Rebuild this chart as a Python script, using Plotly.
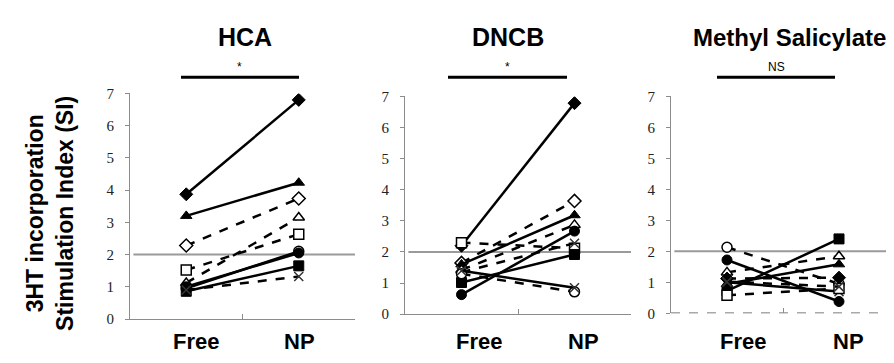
import plotly.graph_objects as go

W, H = 894, 363

categories = ["Free", "NP"]
panel_titles = ["HCA", "DNCB", "Methyl Salicylate"]
significance = ["*", "*", "NS"]
y_ticks = [0, 1, 2, 3, 4, 5, 6, 7]

# Per-subject values (Free, NP)
hca_free = [3.87, 3.20, 2.28, 1.12, 1.52, 0.95, 1.00, 0.86, 0.90]
hca_np   = [6.80, 4.23, 3.74, 3.15, 2.63, 2.10, 2.05, 1.65, 1.32]
hca_sym  = ["diamond", "triangle-up", "diamond-open", "triangle-up-open", "square-open",
            "circle-open", "circle", "square", "x-thin"]
hca_dash = ["solid", "solid", "dash", "dash", "dash", "solid", "solid", "solid", "dash"]

dncb_free = [2.20, 2.30, 1.65, 1.60, 1.42, 0.63, 1.35, 1.02, 1.30, 1.40]
dncb_np   = [6.78, 2.12, 3.64, 3.18, 2.87, 2.67, 2.28, 1.92, 0.72, 0.85]
dncb_sym  = ["diamond", "square-open", "diamond-open", "triangle-up", "triangle-up-open",
             "circle", "x-thin", "square", "circle-open", "x-thin"]
dncb_dash = ["solid", "dash", "dash", "solid", "dash", "solid", "dash", "solid", "dash", "solid"]

ms_free = [2.13, 1.72, 1.32, 0.72, 0.95, 1.12, 1.00, 0.58, 1.02]
ms_np   = [0.95, 0.38, 1.84, 2.40, 1.58, 1.15, 0.70, 0.80, 0.86]
ms_sym  = ["circle-open", "circle", "triangle-up-open", "square", "triangle-up",
           "diamond", "x-thin", "square-open", "x-thin"]
ms_dash = ["dash", "solid", "dash", "solid", "solid", "dash", "solid", "dash", "dash"]

panels = [
    (hca_free, hca_np, hca_sym, hca_dash),
    (dncb_free, dncb_np, dncb_sym, dncb_dash),
    (ms_free, ms_np, ms_sym, ms_dash),
]

# pixel layout of each plot area: (x_left, x_right, y_top, y_bottom)
boxes = [(122, 347, 81, 317), (397, 623, 84, 312), (663, 887, 84, 311)]
title_pos = [(237, "center", 25), (500, "center", 25), (781, "center", 24)]
bracket = [(173, 291), (440, 559), (709, 827)]
label_shift = [(10, 1), (17, 9), (16, 9)]

fig = go.Figure()
cat_x = [0.5, 1.5]

for i, (fr, npv, syms, dashes) in enumerate(panels):
    xa = "x" if i == 0 else f"x{i+1}"
    ya = "y" if i == 0 else f"y{i+1}"
    for f, n, s, d in zip(fr, npv, syms, dashes):
        open_ = s.endswith("-open")
        base = s.replace("-open", "")
        if base == "x-thin":
            mk = dict(symbol="x-thin", size=9, line=dict(color="#333", width=1.5))
        elif open_:
            mk = dict(symbol=base, size=10, color="white", line=dict(color="black", width=1.5))
        else:
            mk = dict(symbol=base, size=10, color="black", line=dict(color="black", width=1))
        fig.add_trace(go.Scatter(
            x=cat_x, y=[f, n], xaxis=xa, yaxis=ya, mode="lines+markers",
            line=dict(color="black", width=2.5, dash=d), marker=mk,
            showlegend=False, hoverinfo="skip"))

layout = dict(width=W, height=H, margin=dict(l=0, r=0, t=0, b=0),
              paper_bgcolor="white", plot_bgcolor="white", showlegend=False)

shapes = []
annotations = []
for i, (xl, xr, yt, yb) in enumerate(boxes):
    sx = "" if i == 0 else str(i + 1)
    xkey, ykey = f"xaxis{sx}", f"yaxis{sx}"
    xa = "x" + sx
    ya = "y" + sx
    layout[xkey] = dict(domain=[xl / W, xr / W], range=[0, 2], anchor=ya,
                        showgrid=False, zeroline=False,
                        showline=(i != 2), linecolor="#8c8c8c", linewidth=1,
                        tickvals=[0, 1, 2], ticktext=["", "", ""], ticks="inside",
                        ticklen=5, tickcolor="#8c8c8c", fixedrange=True)
    layout[ykey] = dict(domain=[1 - yb / H, 1 - yt / H], range=[0, 7], anchor=xa,
                        showgrid=False, zeroline=False,
                        showline=True, linecolor="#8c8c8c", linewidth=1,
                        tickvals=y_ticks, ticks="outside", ticklen=4, tickcolor="#8c8c8c",
                        ticklabelstandoff=8,
                        tickfont=dict(family="Liberation Serif", size=15, color="#222"),
                        fixedrange=True)
    if i == 2:
        shapes.append(dict(type="line", xref=xa, yref=ya, x0=0, x1=2, y0=0, y1=0,
                           line=dict(color="#555", width=1.5, dash="dash"), layer="below"))
    # reference line at SI = 2
    shapes.append(dict(type="line", xref=xa, yref=ya, x0=0.03, x1=2.01, y0=2, y1=2,
                       line=dict(color="#9a9a9a", width=2), layer="below"))
    # significance bracket
    bx0, bx1 = bracket[i]
    shapes.append(dict(type="line", xref="paper", yref="paper", x0=bx0 / W, x1=bx1 / W,
                       y0=1 - 64 / H, y1=1 - 64 / H, line=dict(color="black", width=3)))
    annotations.append(dict(text=significance[i], xref="paper", yref="paper",
                            x=(bx0 + bx1) / 2 / W, y=1 - 53 / H, showarrow=False,
                            xanchor="center", yanchor="middle",
                            font=dict(family="Liberation Sans", size=12, color="black")))
    tx, tanch, tsize = title_pos[i]
    annotations.append(dict(text=f"<b>{panel_titles[i]}</b>", xref="paper", yref="paper",
                            x=tx / W, y=1 - 22 / H, showarrow=False,
                            xanchor=tanch, yanchor="middle",
                            font=dict(family="Liberation Sans", size=tsize, color="black")))
    for c, cx, sh in zip(categories, cat_x, label_shift[i]):
        annotations.append(dict(text=f"<b>{c}</b>", xref=xa, yref="paper",
                                x=cx, xshift=sh, y=1 - 341 / H, showarrow=False,
                                xanchor="center", yanchor="middle",
                                font=dict(family="Liberation Sans", size=22, color="black")))

annotations.append(dict(text="<b>3HT incorporation<br>Stimulation Index (SI)</b>",
                        xref="paper", yref="paper", x=42 / W, y=1 - 207 / H,
                        showarrow=False, textangle=-90, xanchor="center", yanchor="middle",
                        font=dict(family="Liberation Sans", size=23, color="black")))

layout["shapes"] = shapes
layout["annotations"] = annotations
fig.update_layout(**layout)
fig.write_html("out.html")
